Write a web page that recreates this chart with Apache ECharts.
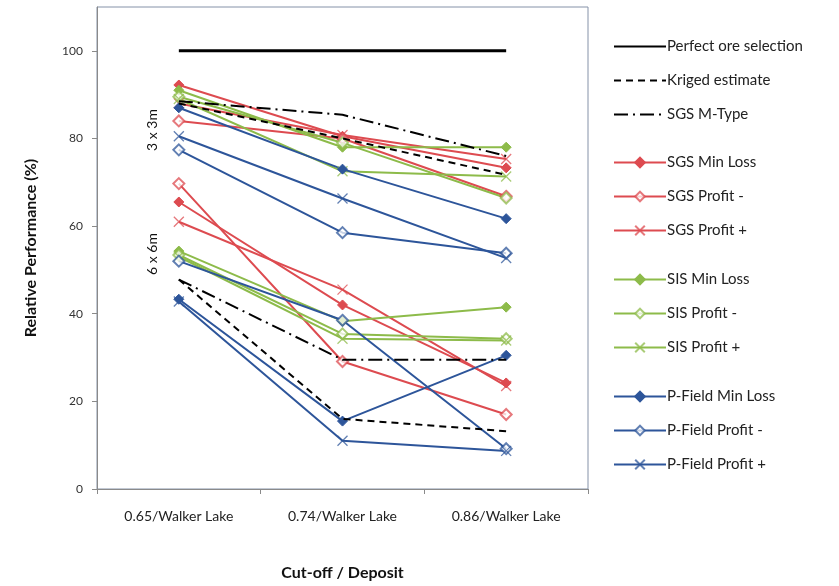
<!DOCTYPE html>
<html>
<head>
<meta charset="utf-8">
<script src="https://cdn.jsdelivr.net/npm/echarts@6/dist/echarts.min.js"></script>
<style>
  html, body { margin: 0; padding: 0; background: #fff; }
  #chart { width: 839px; height: 586px; }
</style>
</head>
<body>
<div id="chart"></div>
<script>
// Categories (cut-off / deposit)
const categories = ['0.65/Walker Lake', '0.74/Walker Lake', '0.86/Walker Lake'];
const yTicks = [0, 20, 40, 60, 80, 100];

// Reference lines
const perfect = [100, 100, 100];
const kriged3 = [88, 80, 71.7];
const kriged6 = [47.8, 16, 13.2];
const mtype3 = [88.5, 85.4, 76];
const mtype6 = [47.8, 29.5, 29.5];

// SGS results (3 x 3m and 6 x 6m blocks)
const sgsMinLoss3 = [92.2, 80.5, 73.3];
const sgsMinLoss6 = [65.5, 42, 24.2];
const sgsProfitMinus3 = [84, 80, 66.8];
const sgsProfitMinus6 = [69.7, 29.1, 17];
const sgsProfitPlus3 = [88, 80.8, 75.3];
const sgsProfitPlus6 = [61, 45.5, 23.5];

// SIS results
const sisMinLoss3 = [91, 78, 78];
const sisMinLoss6 = [54.3, 38.3, 41.5];
const sisProfitMinus3 = [89.5, 79, 66.4];
const sisProfitMinus6 = [53.4, 35.4, 34.3];
const sisProfitPlus3 = [89, 72.5, 71.3];
const sisProfitPlus6 = [53, 34.3, 33.9];

// P-Field results
const pfMinLoss3 = [87, 73, 61.7];
const pfMinLoss6 = [43.3, 15.5, 30.5];
const pfProfitMinus3 = [77.4, 58.5, 53.8];
const pfProfitMinus6 = [52, 38.5, 9.2];
const pfProfitPlus3 = [80.5, 66.3, 52.7];
const pfProfitPlus6 = [42.8, 11, 8.7];

const RED = '#dd4b50';
const GREEN = '#8dbb4a';
const BLUE = '#2d559a';
const CROSS = 'path://M0,0L10,10M10,0L0,10';
const FONT = 'Lato, "Open Sans", sans-serif';

function mark(kind, color) {
  if (kind === 'min') return { symbol: 'diamond', symbolSize: 10, itemStyle: { color: color, borderColor: color, borderWidth: 1 } };
  if (kind === 'minus') return { symbol: 'emptyDiamond', symbolSize: 11, itemStyle: { color: color, borderColor: color, borderWidth: 1.2, opacity: 0.75 } };
  return { symbol: CROSS, symbolSize: 10, itemStyle: { color: color, borderColor: color, borderWidth: 1.3, opacity: 0.75 } };
}

function lineSeries(name, data, color, kind) {
  const m = mark(kind, color);
  return Object.assign({
    name: name,
    type: 'line',
    data: data,
    showSymbol: true,
    lineStyle: { color: color, width: 2 },
    emphasis: { disabled: true },
    z: 3
  }, m);
}

function plainLine(name, data, width, type) {
  return {
    name: name, type: 'line', data: data, symbol: 'none',
    lineStyle: { color: '#000', width: width, type: type },
    itemStyle: { color: '#000' },
    emphasis: { disabled: true },
    z: 4
  };
}

const groups = [
  ['SGS Min Loss', sgsMinLoss3, sgsMinLoss6, RED, 'min'],
  ['SGS Profit -', sgsProfitMinus3, sgsProfitMinus6, RED, 'minus'],
  ['SGS Profit +', sgsProfitPlus3, sgsProfitPlus6, RED, 'plus'],
  ['SIS Min Loss', sisMinLoss3, sisMinLoss6, GREEN, 'min'],
  ['SIS Profit -', sisProfitMinus3, sisProfitMinus6, GREEN, 'minus'],
  ['SIS Profit +', sisProfitPlus3, sisProfitPlus6, GREEN, 'plus'],
  ['P-Field Min Loss', pfMinLoss3, pfMinLoss6, BLUE, 'min'],
  ['P-Field Profit -', pfProfitMinus3, pfProfitMinus6, BLUE, 'minus'],
  ['P-Field Profit +', pfProfitPlus3, pfProfitPlus6, BLUE, 'plus']
];

const series = [
  plainLine('Perfect ore selection', perfect, 3, 'solid'),
  plainLine('Kriged estimate', kriged3, 2, [7, 5]),
  plainLine('Kriged estimate', kriged6, 2, [7, 5]),
  plainLine('SGS M-Type', mtype3, 2, [14, 5, 2, 5]),
  plainLine('SGS M-Type', mtype6, 2, [14, 5, 2, 5])
];
groups.forEach(g => {
  series.push(lineSeries(g[0], g[1], g[3], g[4]));
  series.push(lineSeries(g[0], g[2], g[3], g[4]));
});

function legendBlock(top, names) {
  return {
    orient: 'vertical', left: 608, top: top,
    itemWidth: 52, itemHeight: 12, itemGap: 19,
    selectedMode: false,
    textStyle: { fontFamily: FONT, fontSize: 15, color: '#222', padding: [0, 0, 0, -4] },
    data: names
  };
}

// Legend entries for the black lines show the line only, with no point marker
const lineOnly = name => ({ name: name, itemStyle: { color: 'rgba(0,0,0,0)', borderColor: 'rgba(0,0,0,0)', borderWidth: 0 } });

const chart = echarts.init(document.getElementById('chart'), null, { renderer: 'canvas' });
chart.setOption({
  backgroundColor: '#fff',
  animation: false,
  textStyle: { fontFamily: FONT },
  grid: { left: 97, right: 251, top: 7, bottom: 88, show: true, borderColor: '#8592a8', borderWidth: 1, backgroundColor: 'transparent' },
  legend: [
    legendBlock(34, [lineOnly('Perfect ore selection'), lineOnly('Kriged estimate'), lineOnly('SGS M-Type')]),
    legendBlock(150, ['SGS Min Loss', 'SGS Profit -', 'SGS Profit +']),
    legendBlock(267, ['SIS Min Loss', 'SIS Profit -', 'SIS Profit +']),
    legendBlock(384, ['P-Field Min Loss', 'P-Field Profit -', 'P-Field Profit +'])
  ],
  xAxis: {
    type: 'category',
    data: categories,
    boundaryGap: true,
    name: 'Cut-off / Deposit',
    nameLocation: 'middle',
    nameGap: 76,
    nameTextStyle: { fontFamily: FONT, fontSize: 16, fontWeight: 'bold', color: '#111' },
    axisLine: { lineStyle: { color: '#8a8a8a' } },
    axisTick: { show: true, length: 5, lineStyle: { color: '#8a8a8a' } },
    axisLabel: { fontFamily: FONT, fontSize: 14, color: '#222', margin: 20 },
    splitLine: { show: false }
  },
  yAxis: {
    type: 'value',
    min: 0, max: 110, interval: 20,
    name: 'Relative Performance (%)',
    nameLocation: 'middle',
    nameGap: 58,
    nameTextStyle: { fontFamily: FONT, fontSize: 16, fontWeight: 'bold', color: '#111' },
    axisLine: { show: true, lineStyle: { color: '#8a8a8a' } },
    axisTick: { show: true, length: 5, lineStyle: { color: '#8a8a8a' } },
    axisLabel: {
      fontFamily: FONT, fontSize: 12, color: '#333', margin: 14, showMaxLabel: false,
      formatter: v => (yTicks.indexOf(v) >= 0 ? String(v) : '')
    },
    splitLine: { show: false }
  },
  graphic: [
    { type: 'text', left: 145, top: 109, rotation: Math.PI / 2,
      style: { text: '3 x 3m', font: '14px ' + FONT, fill: '#111' } },
    { type: 'text', left: 145, top: 233, rotation: Math.PI / 2,
      style: { text: '6 x 6m', font: '14px ' + FONT, fill: '#111' } }
  ],
  series: series
});
</script>
</body>
</html>
